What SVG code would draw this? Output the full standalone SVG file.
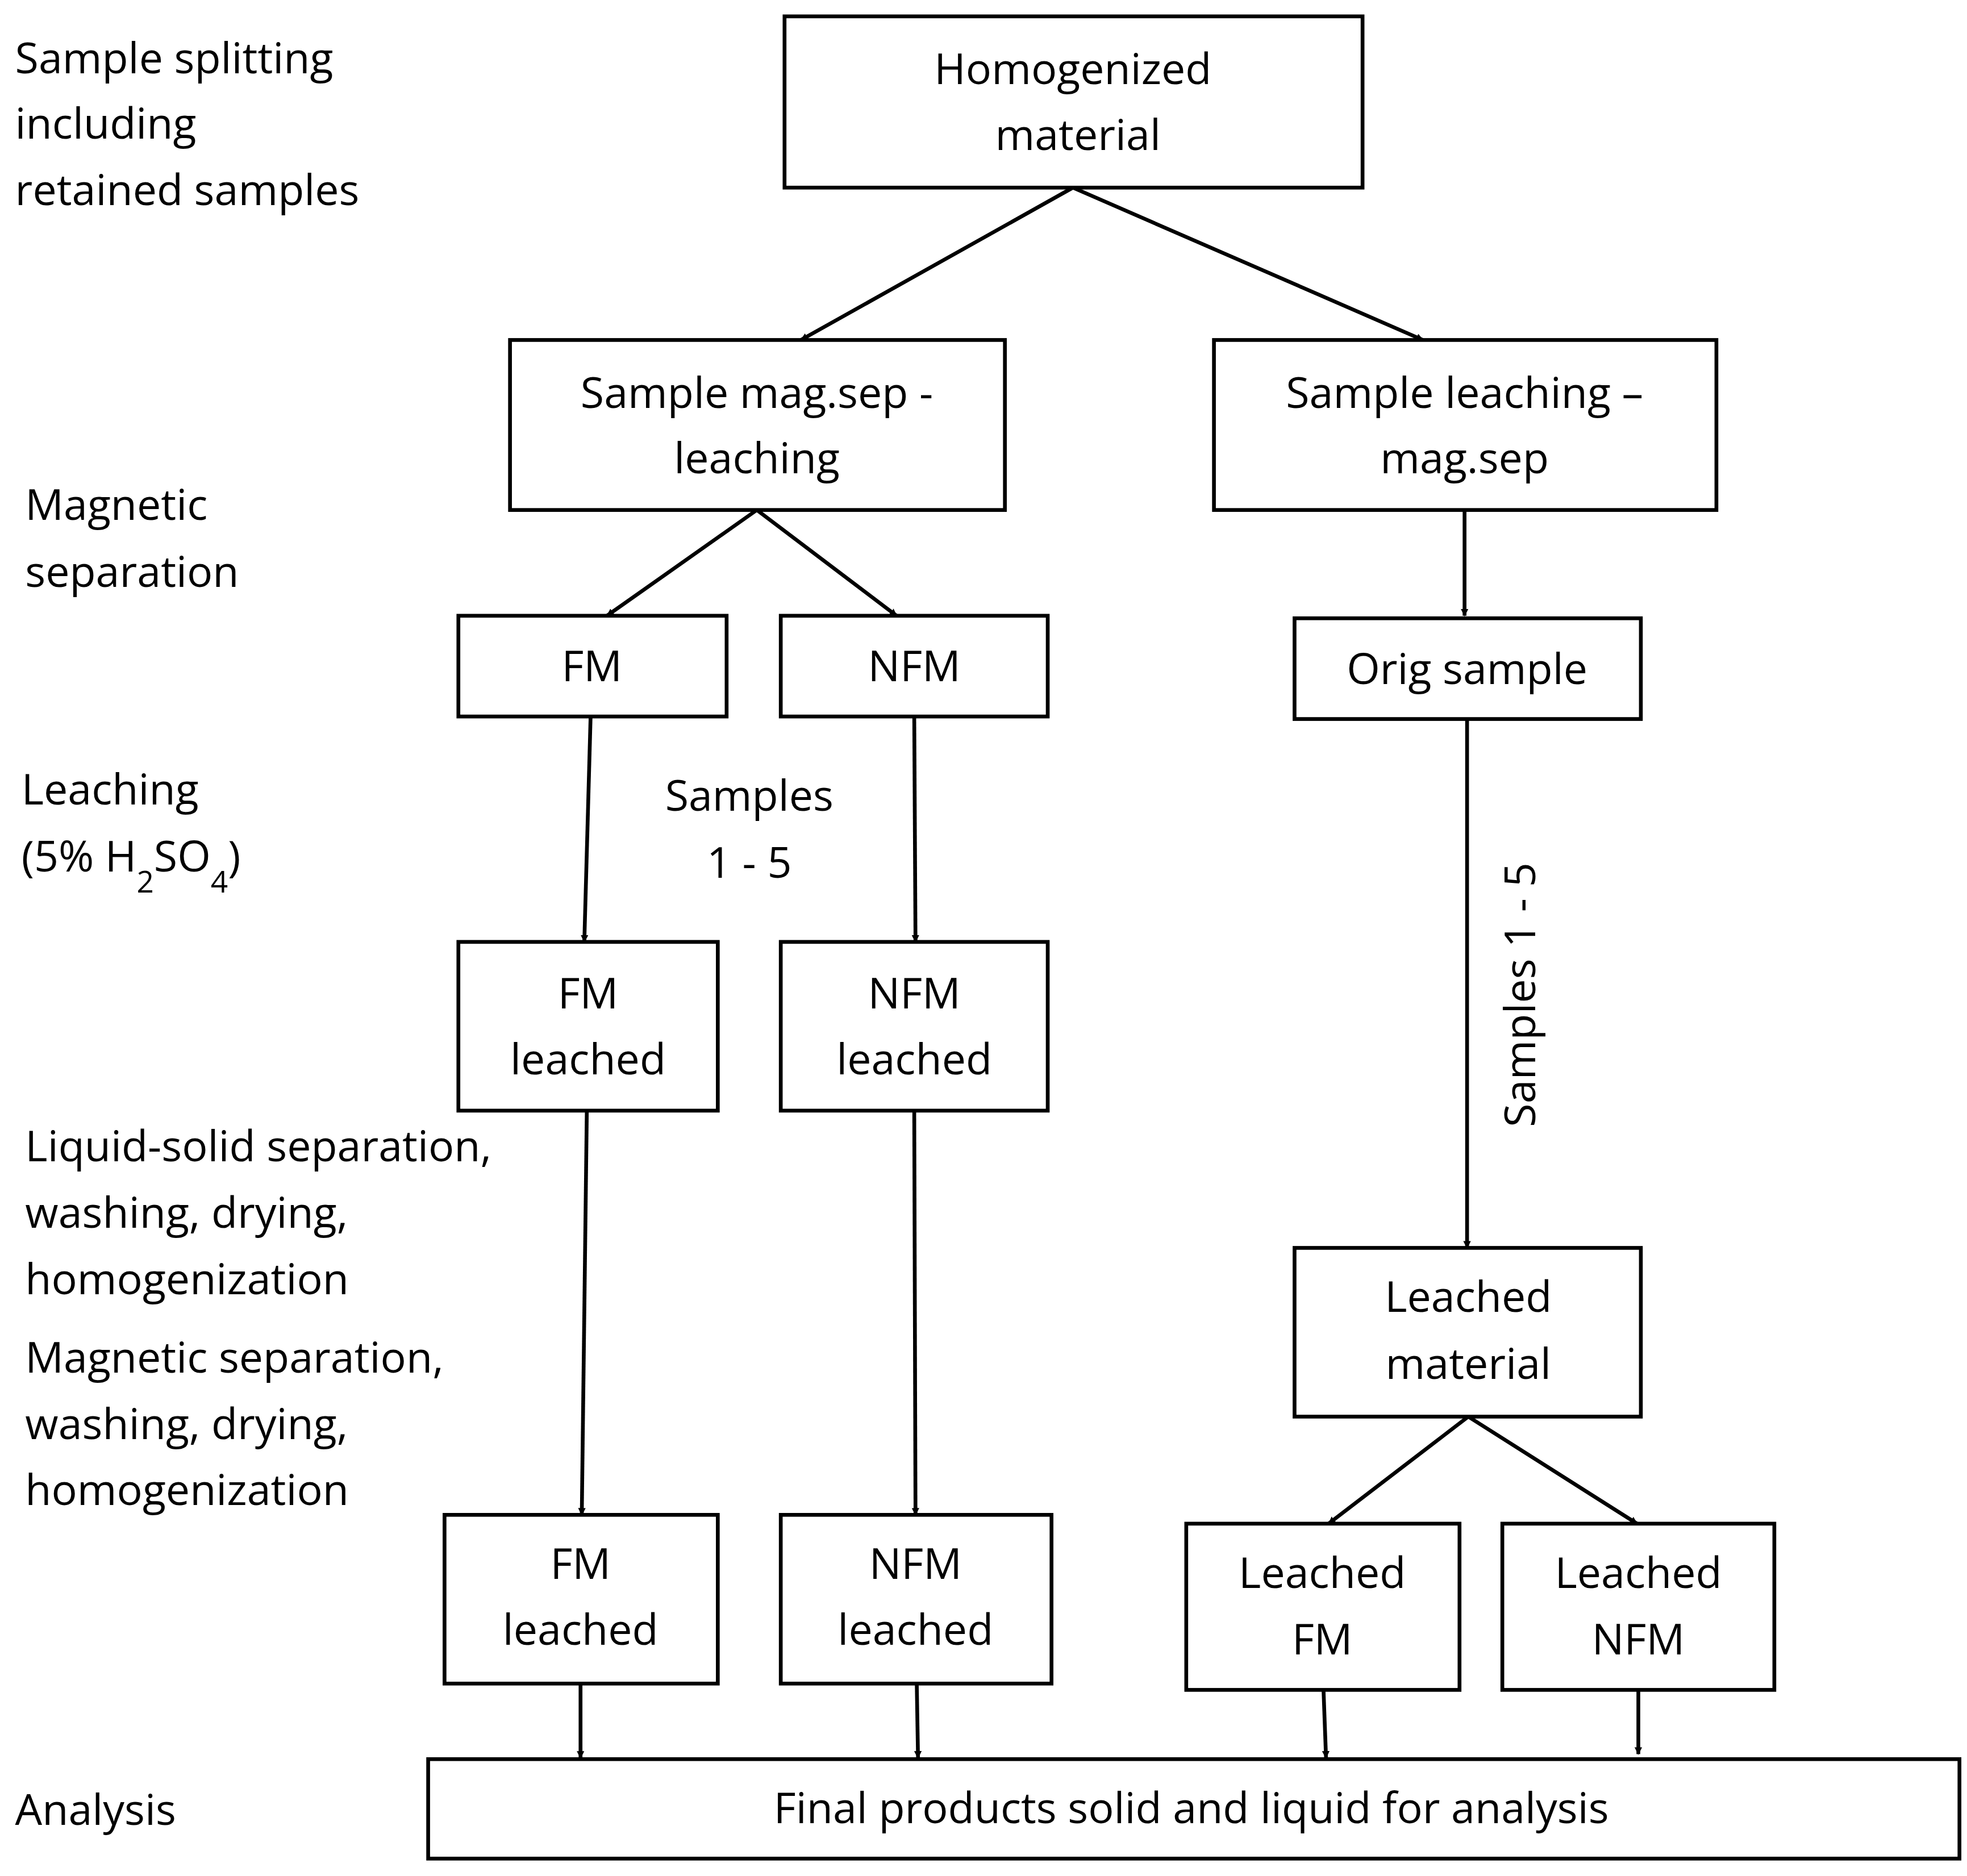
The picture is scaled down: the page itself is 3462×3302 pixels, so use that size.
<svg xmlns="http://www.w3.org/2000/svg" width="3462" height="3302" viewBox="0 0 3462 3302">
<defs>
<marker id="ah" viewBox="0 0 10 10" refX="9" refY="5" markerWidth="6" markerHeight="6" markerUnits="userSpaceOnUse" orient="auto"><path d="M0,0 L10,5 L0,10 z" fill="#000"/></marker>
<style>
rect{fill:#fff;stroke:#000;stroke-width:3}
text{font-family:"Open Sans","Liberation Sans",sans-serif;font-size:34px;fill:#000}
.c{text-anchor:middle}
line{stroke:#000;stroke-width:3;marker-end:url(#ah)}
</style>
</defs>
<rect x="0" y="0" width="3462" height="3302" style="fill:#fff;stroke:none"/>
<g transform="scale(2.2164)">
<g id="connectors">
<line x1="852" y1="149" x2="636" y2="270"/>
<line x1="852" y1="149" x2="1130" y2="270"/>
<line x1="601" y1="405" x2="482" y2="489"/>
<line x1="601" y1="405" x2="712" y2="489"/>
<line x1="1163" y1="405" x2="1163" y2="489"/>
<line x1="469" y1="569" x2="464" y2="748"/>
<line x1="726" y1="569" x2="727" y2="748"/>
<line x1="1165" y1="571" x2="1165" y2="991"/>
<line x1="466" y1="882" x2="462" y2="1203"/>
<line x1="726" y1="882" x2="727" y2="1203"/>
<line x1="1166" y1="1125" x2="1055" y2="1210"/>
<line x1="1166" y1="1125" x2="1300" y2="1210"/>
<line x1="461" y1="1337" x2="461" y2="1396"/>
<line x1="728" y1="1337" x2="729" y2="1396"/>
<line x1="1051" y1="1342" x2="1053" y2="1396"/>
<line x1="1301" y1="1342" x2="1301" y2="1393"/>
</g>
<g id="n1"><rect x="623" y="13" width="459" height="136"/><text class="c" x="852" y="67">Homogenized</text><text class="c" x="856" y="119">material</text></g>
<g id="n2"><rect x="405" y="270" width="393" height="135"/><text class="c" x="601" y="324">Sample mag.sep -</text><text class="c" x="601" y="376">leaching</text></g>
<g id="n3"><rect x="964" y="270" width="399" height="135"/><text class="c" x="1163" y="324">Sample leaching –</text><text class="c" x="1163" y="376">mag.sep</text></g>
<g id="n4"><rect x="364" y="489" width="213" height="80"/><text class="c" x="470" y="541">FM</text></g>
<g id="n5"><rect x="620" y="489" width="212" height="80"/><text class="c" x="726" y="541">NFM</text></g>
<g id="n6"><rect x="1028" y="491" width="275" height="80"/><text class="c" x="1165" y="543">Orig sample</text></g>
<g id="n7"><rect x="364" y="748" width="206" height="134"/><text class="c" x="467" y="801">FM</text><text class="c" x="467" y="853">leached</text></g>
<g id="n8"><rect x="620" y="748" width="212" height="134"/><text class="c" x="726" y="801">NFM</text><text class="c" x="726" y="853">leached</text></g>
<g id="n9"><rect x="1028" y="991" width="275" height="134"/><text class="c" x="1166" y="1042">Leached</text><text class="c" x="1166" y="1095">material</text></g>
<g id="n10"><rect x="353" y="1203" width="217" height="134"/><text class="c" x="461" y="1254">FM</text><text class="c" x="461" y="1306">leached</text></g>
<g id="n11"><rect x="620" y="1203" width="215" height="134"/><text class="c" x="727" y="1254">NFM</text><text class="c" x="727" y="1306">leached</text></g>
<g id="n12"><rect x="942" y="1210" width="217" height="132"/><text class="c" x="1050" y="1261">Leached</text><text class="c" x="1050" y="1314">FM</text></g>
<g id="n13"><rect x="1193" y="1210" width="216" height="132"/><text class="c" x="1301" y="1261">Leached</text><text class="c" x="1301" y="1314">NFM</text></g>
<g id="n14"><rect x="340" y="1397" width="1216" height="79"/><text class="c" x="946" y="1448">Final products solid and liquid for analysis</text></g>
<g id="labels">
<text x="12" y="58">Sample splitting</text><text x="12" y="110">including</text><text x="12" y="163">retained samples</text>
<text x="20" y="413">Magnetic</text><text x="20" y="466">separation</text>
<text x="17" y="639">Leaching</text><text x="17" y="692">(5% H<tspan baseline-shift="sub" font-size="24">2</tspan>SO<tspan baseline-shift="sub" font-size="24">4</tspan>)</text>
<text x="20" y="922">Liquid-solid separation,</text><text x="20" y="975">washing, drying,</text><text x="20" y="1028">homogenization</text>
<text x="20" y="1090">Magnetic separation,</text><text x="20" y="1143">washing, drying,</text><text x="20" y="1195">homogenization</text>
<text x="12" y="1449">Analysis</text>
<text class="c" x="595" y="644">Samples</text><text class="c" x="595" y="697">1 - 5</text>
<text class="c" transform="translate(1219,790) rotate(-90)">Samples 1 - 5</text>
</g>
</g>
</svg>
